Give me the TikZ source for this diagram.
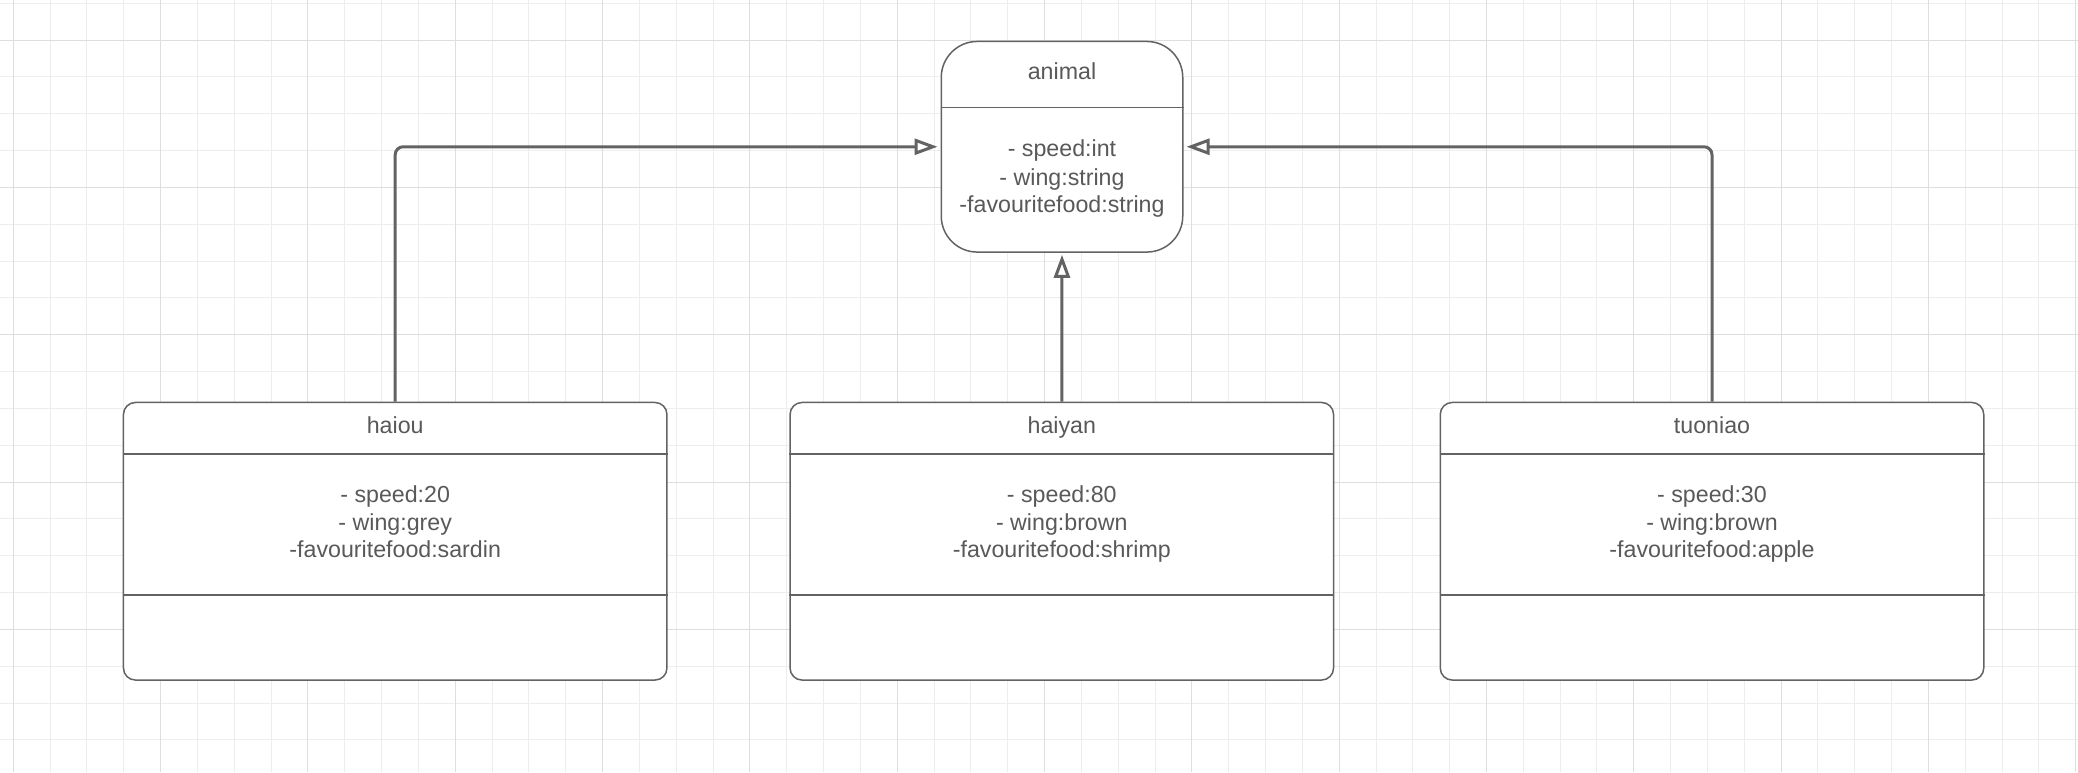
\documentclass[tikz,border=0pt]{standalone}
\usepackage{fontspec}
\setmainfont{Liberation Sans}
\usetikzlibrary{arrows.meta}
\definecolor{linec}{HTML}{636363}
\definecolor{textc}{HTML}{595959}
\definecolor{gridmin}{HTML}{EDEDED}
\definecolor{gridmaj}{HTML}{DEDEDE}
\begin{document}
\begin{tikzpicture}[x=1pt,y=-1pt,
  gridminor/.style={draw=gridmin, line width=1pt},
  gridmajor/.style={draw=gridmaj, line width=1pt},
  classbox/.style={draw=linec, line width=1.5pt, fill=white, rounded corners=12pt,
    minimum width=543.5pt, minimum height=277.6pt, inner sep=0pt, anchor=north},
  superbox/.style={draw=linec, line width=1.5pt, fill=white, rounded corners=36pt,
    minimum width=241.5pt, minimum height=210.6pt, inner sep=0pt, anchor=north},
  divider/.style={draw=linec, line width=1.5pt},
  txt/.style={anchor=base, inner sep=0pt, text=textc, font=\fontsize{23.2}{28}\selectfont},
  conn/.style={draw=linec, line width=3pt, rounded corners=8pt,
    -{Triangle[open, length=23pt, width=16pt, line width=3pt]}}]
% background and grid
\fill[white] (0,0) rectangle (2078,772);
\useasboundingbox (0,0) rectangle (2078,772);
\foreach \k in {0,...,56} {
  \pgfmathsetmacro{\gx}{floor(13.3+36.83*\k)+0.5}
  \draw[gridminor] (\gx,0) -- (\gx,772);
}
\foreach \k in {0,...,20} {
  \pgfmathsetmacro{\gy}{floor(3.3+36.83*\k)+0.5}
  \draw[gridminor] (0,\gy) -- (2078,\gy);
}
\foreach \k in {0,4,...,56} {
  \pgfmathsetmacro{\gx}{floor(13.3+36.83*\k)+0.5}
  \draw[gridmajor] (\gx,0) -- (\gx,772);
}
\foreach \k in {1,5,...,17} {
  \pgfmathsetmacro{\gy}{floor(3.3+36.83*\k)+0.5}
  \draw[gridmajor] (0,\gy) -- (2078,\gy);
}

% superclass
\node[superbox] (animal) at (1062,40.7) {};
\draw[divider] (animal.west |- 0,107.7) -- (animal.east |- 0,107.7);
\node[txt] (animalT) at (1062,79.3) {animal};
\node[txt] (animalA1) at (1062,156.7) {- speed:int};
\node[txt] (animalA2) at (1062,185) {- wing:string};
\node[txt] (animalA3) at (1062,212.7) {-favouritefood:string};

% subclasses
\node[classbox] (haiou) at (395.2,401.7) {};
\node[classbox] (haiyan) at (1061.8,401.7) {};
\node[classbox] (tuoniao) at (1712,401.7) {};
\foreach \n in {haiou,haiyan,tuoniao} {
  \draw[divider] (\n.west |- 0,454) -- (\n.east |- 0,454);
  \draw[divider] (\n.west |- 0,595) -- (\n.east |- 0,595);
}
\node[txt] (haiouT) at (395.2,433.3) {haiou};
\node[txt] (haiouA1) at (395.2,502.3) {- speed:20};
\node[txt] (haiouA2) at (395.2,530) {- wing:grey};
\node[txt] (haiouA3) at (395.2,557.7) {-favouritefood:sardin};

\node[txt] (haiyanT) at (1061.8,433.3) {haiyan};
\node[txt] (haiyanA1) at (1061.8,502.3) {- speed:80};
\node[txt] (haiyanA2) at (1061.8,530) {- wing:brown};
\node[txt] (haiyanA3) at (1061.8,557.7) {-favouritefood:shrimp};

\node[txt] (tuoniaoT) at (1712,433.3) {tuoniao};
\node[txt] (tuoniaoA1) at (1712,502.3) {- speed:30};
\node[txt] (tuoniaoA2) at (1712,530) {- wing:brown};
\node[txt] (tuoniaoA3) at (1712,557.7) {-favouritefood:apple};

% generalisation connectors
\draw[conn] (haiou.north) |- ([xshift=-3pt]animal.west);
\draw[conn] (tuoniao.north) |- ([xshift=3pt]animal.east);
\draw[conn] (haiyan.north) -- ([yshift=-2pt]animal.south);
\end{tikzpicture}
\end{document}
